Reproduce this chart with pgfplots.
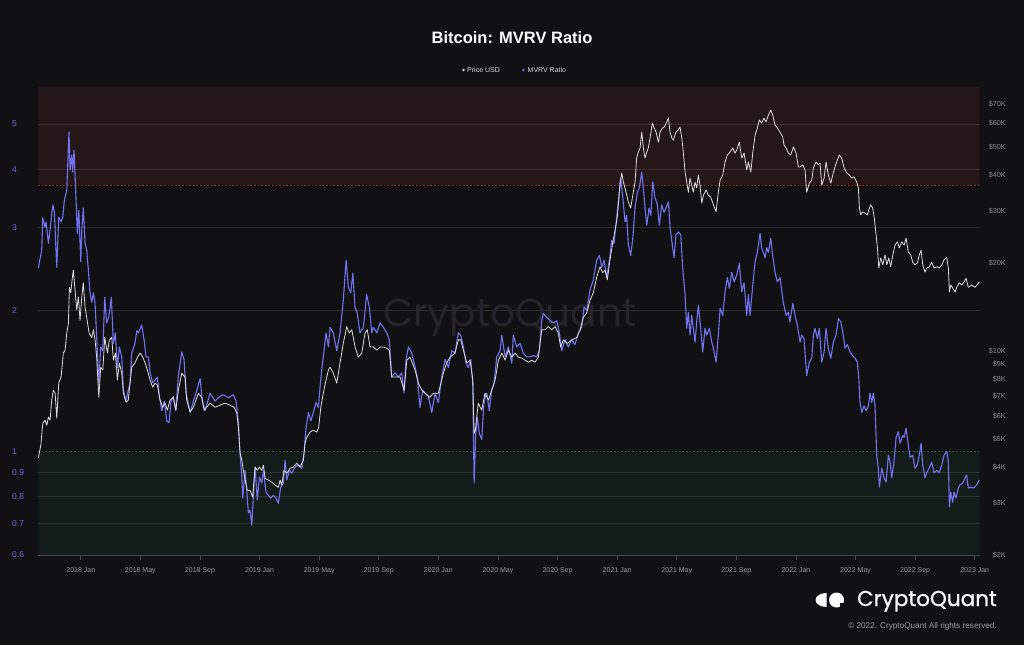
\documentclass[border=0pt]{standalone}
\usepackage{fontspec}
\setmainfont{Liberation Sans}
\newfontfamily\pop{Poppins}
\newfontfamily\popm{Poppins}[FakeBold=0.7]
\usepackage{pgfplots}
\usepackage{pgfplotstable}
\pgfplotsset{compat=1.18}
\definecolor{bg}{HTML}{111114}
\definecolor{redzone}{HTML}{251618}
\definecolor{greenzone}{HTML}{131C19}
\definecolor{mvrv}{HTML}{7272F2}
\definecolor{price}{HTML}{DCDCDC}
\definecolor{lefttick}{HTML}{6A6AE6}
\definecolor{righttick}{HTML}{8A8A8E}
\definecolor{xtickc}{HTML}{9A9AA0}
\definecolor{wm}{HTML}{24242A}
\definecolor{reddash}{HTML}{8A2A2A}
\definecolor{greendash}{HTML}{2E5A36}

\pgfplotstableread{
m v
-2.85 2.46
-2.62 2.69
-2.55 3.15
-2.40 3.01
-2.33 3.09
-2.17 2.78
-2.06 2.97
-1.88 3.36
-1.77 3.23
-1.61 2.47
-1.48 3.16
-1.32 3.09
-1.21 3.16
-1.10 3.44
-0.94 3.61
-0.79 4.81
-0.72 3.99
-0.60 4.29
-0.54 3.95
-0.45 4.40
-0.34 3.61
-0.23 2.92
-0.13 3.27
0.00 2.54
0.07 2.97
0.17 3.31
0.29 2.78
0.40 2.69
0.51 2.44
0.62 2.18
0.74 2.08
0.85 2.18
0.96 2.07
1.07 1.75
1.21 1.40
1.34 1.67
1.48 1.64
1.61 2.13
1.74 1.88
1.88 1.93
2.05 2.13
2.19 1.70
2.32 1.79
2.46 1.51
2.59 1.67
2.75 1.59
2.86 1.35
3.04 1.28
3.19 1.35
3.31 1.40
3.42 1.62
3.64 1.70
3.76 1.81
3.87 1.79
4.09 1.86
4.25 1.73
4.38 1.59
4.54 1.59
4.65 1.47
4.83 1.40
4.99 1.42
5.14 1.44
5.28 1.31
5.44 1.22
5.61 1.28
5.77 1.16
5.93 1.15
6.04 1.27
6.21 1.31
6.38 1.22
6.55 1.45
6.78 1.63
6.93 1.57
7.07 1.33
7.34 1.21
7.56 1.28
7.79 1.35
8.01 1.43
8.16 1.28
8.34 1.22
8.68 1.33
9.01 1.28
9.35 1.31
9.57 1.32
9.91 1.30
10.24 1.32
10.42 1.28
10.58 1.15
10.69 0.99
10.81 0.88
10.87 0.794
11.03 0.91
11.14 0.826
11.25 0.738
11.36 0.748
11.48 0.695
11.58 0.798
11.70 0.925
11.85 0.787
11.99 0.88
12.15 0.855
12.26 0.91
12.44 0.814
12.59 0.805
12.75 0.794
12.93 0.805
13.11 0.794
13.26 0.774
13.42 0.838
13.60 0.855
13.71 0.957
13.83 0.868
14.00 0.91
14.16 0.897
14.38 0.925
14.60 0.934
14.83 0.92
14.99 0.995
15.12 1.12
15.28 1.21
15.44 1.16
15.61 1.21
15.79 1.27
15.95 1.24
16.06 1.37
16.17 1.49
16.28 1.59
16.46 1.79
16.62 1.67
16.73 1.84
16.95 1.79
17.18 1.64
17.40 1.79
17.62 2.10
17.81 2.56
17.96 2.24
18.12 2.18
18.26 2.40
18.41 2.03
18.56 1.97
18.74 1.79
18.97 1.84
19.19 2.16
19.37 2.03
19.53 1.79
19.64 1.84
19.87 1.79
20.09 1.88
20.31 1.84
20.54 1.79
20.71 1.73
20.87 1.44
21.09 1.47
21.32 1.44
21.54 1.47
21.70 1.33
21.83 1.57
21.99 1.67
22.21 1.62
22.44 1.51
22.59 1.44
22.77 1.24
22.95 1.35
23.11 1.33
23.33 1.31
23.56 1.21
23.78 1.33
24.00 1.27
24.23 1.44
24.45 1.57
24.67 1.51
24.90 1.64
25.12 1.62
25.34 1.79
25.50 1.77
25.68 1.67
25.86 1.54
26.01 1.51
26.17 1.57
26.31 1.40
26.40 0.855
26.51 1.09
26.62 1.18
26.75 1.09
26.91 1.06
27.07 1.28
27.25 1.33
27.42 1.22
27.58 1.35
27.74 1.40
27.92 1.59
28.14 1.64
28.26 1.77
28.48 1.59
28.70 1.67
28.93 1.54
29.03 1.77
29.26 1.67
29.48 1.70
29.70 1.62
29.93 1.59
30.15 1.59
30.38 1.60
30.60 1.59
30.78 1.64
30.94 1.90
31.05 1.97
31.28 1.93
31.50 1.90
31.72 1.88
31.95 1.90
32.12 1.79
32.28 1.64
32.50 1.73
32.72 1.67
32.95 1.73
33.17 1.69
33.40 1.79
33.62 1.84
33.78 2.03
33.96 2.00
34.18 2.21
34.40 2.32
34.63 2.56
34.81 2.62
34.97 2.47
35.12 2.56
35.30 2.35
35.48 2.56
35.64 2.82
35.79 2.78
35.93 3.07
36.08 3.41
36.24 3.84
36.38 3.48
36.53 3.09
36.64 3.19
36.75 2.76
36.91 2.62
37.05 2.85
37.20 3.31
37.36 3.58
37.49 3.65
37.65 3.95
37.76 3.65
37.87 3.31
37.99 3.04
38.14 3.31
38.26 3.19
38.39 3.76
38.54 3.48
38.70 3.36
38.83 3.04
38.99 3.36
39.15 3.24
39.28 3.31
39.44 3.41
39.55 3.00
39.73 2.72
39.82 2.59
39.95 2.90
40.11 2.94
40.27 2.90
40.40 2.46
40.56 2.16
40.67 1.83
40.78 1.98
40.89 1.77
41.01 1.95
41.11 1.83
41.23 1.71
41.34 1.89
41.45 2.05
41.61 1.83
41.74 1.63
41.90 1.83
42.01 1.77
42.19 1.83
42.35 1.71
42.46 1.66
42.64 1.55
42.79 1.77
42.91 2.02
43.09 1.95
43.24 2.19
43.40 2.35
43.53 2.23
43.69 2.41
43.85 2.30
44.03 2.38
44.20 2.52
44.36 2.19
44.52 2.29
44.70 1.95
44.81 2.16
44.92 1.95
45.10 2.26
45.26 2.54
45.41 2.66
45.59 2.92
45.70 2.72
45.81 2.66
45.93 2.59
46.04 2.72
46.15 2.66
46.31 2.85
46.44 2.62
46.60 2.41
46.75 2.30
46.93 2.35
47.15 2.08
47.34 1.95
47.49 1.98
47.60 1.89
47.79 2.07
47.94 1.95
48.09 1.86
48.28 1.71
48.39 1.77
48.54 1.74
48.72 1.45
48.90 1.55
49.06 1.58
49.17 1.77
49.28 1.83
49.44 1.74
49.57 1.83
49.73 1.55
49.89 1.63
50.02 1.83
50.17 1.66
50.34 1.58
50.51 1.71
50.69 1.77
50.85 1.92
51.01 1.89
51.14 1.80
51.30 1.66
51.45 1.69
51.63 1.63
51.81 1.60
51.97 1.58
52.12 1.55
52.22 1.43
52.30 1.27
52.42 1.21
52.57 1.25
52.71 1.22
52.86 1.25
52.97 1.33
53.09 1.27
53.19 1.33
53.31 1.25
53.42 0.98
53.53 0.92
53.60 0.838
53.76 0.92
53.91 0.877
54.05 0.859
54.20 0.98
54.32 0.948
54.43 0.877
54.58 0.948
54.72 1.07
54.87 1.10
54.99 1.04
55.17 1.08
55.26 1.07
55.39 1.12
55.54 1.03
55.66 0.97
55.84 0.98
55.99 0.92
56.15 0.934
56.28 0.98
56.40 1.04
56.51 0.934
56.66 0.877
56.78 0.90
56.95 0.92
57.11 0.948
57.27 0.90
57.45 0.91
57.62 0.90
57.79 0.934
57.94 0.98
58.12 1.00
58.23 0.948
58.30 0.760
58.39 0.818
58.52 0.778
58.61 0.818
58.74 0.794
58.90 0.834
59.01 0.847
59.19 0.855
59.35 0.877
59.46 0.889
59.57 0.834
59.73 0.838
59.91 0.834
60.13 0.847
60.31 0.868
}\mvrvdata

\pgfplotstableread{
m p
-2.85 4290
-2.68 4750
-2.55 5650
-2.40 5790
-2.28 5560
-2.17 5930
-2.06 5790
-1.95 6780
-1.84 7330
-1.72 7160
-1.61 5880
-1.48 7750
-1.32 8130
-1.17 9820
-1.05 10050
-0.94 11500
-0.83 12400
-0.76 16500
-0.67 15800
-0.58 17500
-0.50 18900
-0.40 16500
-0.27 13800
-0.16 15300
-0.05 12700
0.07 15300
0.17 17100
0.29 14100
0.40 13000
0.56 11500
0.74 11100
0.85 11800
0.96 10900
1.07 9510
1.21 6930
1.34 8790
1.48 8590
1.61 11100
1.79 9820
1.92 10900
2.08 11100
2.19 9290
2.32 9820
2.46 7940
2.59 9080
2.75 8390
2.86 7160
3.04 6670
3.19 6780
3.42 8790
3.64 9080
3.80 9510
3.98 9820
4.16 9510
4.32 9080
4.47 8590
4.65 7940
4.83 7510
4.99 7750
5.14 7630
5.32 6780
5.50 6410
5.66 6620
5.81 6260
5.99 6780
6.21 6930
6.38 6260
6.55 7330
6.78 8390
7.00 8130
7.11 6780
7.34 6170
7.56 6410
7.89 7160
8.12 6930
8.28 6260
8.68 6620
9.01 6410
9.35 6510
9.68 6620
10.02 6510
10.29 6410
10.47 6120
10.58 5480
10.69 4470
10.81 4220
10.91 3900
11.03 3610
11.18 3330
11.36 3330
11.54 3160
11.70 4000
11.85 3900
11.99 4000
12.15 3900
12.26 4060
12.37 3660
12.59 3610
12.82 3550
13.04 3470
13.26 3410
13.38 3610
13.49 3470
13.64 3900
13.83 3810
14.05 3960
14.27 4000
14.50 4120
14.72 4000
14.94 4220
15.05 4830
15.17 5060
15.39 5270
15.61 5350
15.84 5270
15.97 5480
16.11 6410
16.28 7160
16.46 7940
16.62 8590
16.73 8790
16.95 8390
17.18 7750
17.40 9080
17.62 10600
17.85 12100
18.02 11500
18.19 11800
18.41 10300
18.63 9510
18.86 9820
19.08 11500
19.23 11800
19.42 10300
19.64 10300
19.87 10050
20.09 10300
20.31 10300
20.54 10200
20.71 10050
20.87 8130
21.09 8130
21.43 8130
21.70 7330
21.88 9290
22.10 9510
22.44 8590
22.66 7750
22.89 7330
23.11 7160
23.44 6930
23.66 7160
24.00 7160
24.34 8390
24.56 9080
24.79 9510
25.12 9820
25.34 10900
25.50 10900
25.68 10050
25.91 9080
26.13 9290
26.31 7940
26.40 5220
26.48 5350
26.68 6620
26.91 6260
27.13 7160
27.36 6780
27.58 7330
27.81 7940
28.03 9290
28.26 9820
28.48 9290
28.70 10050
28.93 9510
29.15 9820
29.37 9510
29.60 9440
29.82 9290
30.04 9140
30.27 9290
30.49 9140
30.71 9510
30.94 11800
31.16 11800
31.38 12100
31.61 11800
31.83 12100
32.05 11500
32.21 10300
32.39 10900
32.66 10600
32.95 10900
33.29 11100
33.51 11800
33.73 13000
33.96 13500
34.18 14900
34.40 15800
34.63 17900
34.85 19400
35.03 18500
35.19 18900
35.34 17500
35.52 20500
35.70 23400
35.86 25900
36.01 28700
36.20 37500
36.31 40600
36.42 37800
36.60 34900
36.75 32300
36.91 30800
37.05 34100
37.20 37800
37.31 45700
37.42 47900
37.54 49500
37.65 56100
37.76 49500
37.87 45700
37.99 47900
38.09 49500
38.21 53500
38.36 60200
38.48 57900
38.61 56100
38.77 51800
38.88 56100
39.04 57900
39.17 58400
39.33 60700
39.44 62600
39.55 56100
39.67 53500
39.77 52600
39.95 56100
40.11 57000
40.22 58400
40.34 53500
40.44 47900
40.56 40900
40.67 37800
40.78 34900
40.89 39000
41.01 36900
41.11 34900
41.23 37800
41.34 36100
41.45 40000
41.56 36900
41.68 32000
41.79 34100
41.97 35500
42.12 34100
42.28 33600
42.46 31600
42.64 29900
42.79 34900
42.91 38400
43.09 40000
43.24 44300
43.40 46800
43.58 47900
43.76 49500
43.91 47500
44.03 48700
44.20 51800
44.36 45700
44.52 47500
44.70 41600
44.81 44300
44.97 40900
45.10 47500
45.26 54800
45.41 57900
45.54 61700
45.70 60200
45.85 62600
45.99 60700
46.15 64100
46.31 66700
46.44 64100
46.60 59300
46.75 57900
46.93 56100
47.11 54000
47.20 50600
47.34 49500
47.49 47500
47.65 46800
47.83 49900
48.01 47500
48.16 42600
48.28 42600
48.46 43300
48.61 41600
48.72 34900
48.90 37500
49.06 38400
49.17 42300
49.35 44300
49.50 43300
49.62 43900
49.73 36900
49.89 39000
50.02 44300
50.17 40000
50.34 37500
50.47 40000
50.62 42600
50.78 45000
50.91 46800
51.07 45700
51.23 42300
51.41 40600
51.58 40000
51.74 39000
51.90 39400
52.08 37800
52.19 36100
52.26 30800
52.35 29200
52.48 29900
52.64 29600
52.79 29200
52.93 30800
53.02 31600
53.15 30800
53.26 28500
53.38 24900
53.47 22500
53.56 19200
53.69 20800
53.83 19700
53.98 21300
54.10 19700
54.23 20800
54.36 19400
54.50 21300
54.65 23000
54.81 23600
54.94 22500
55.10 23600
55.26 23000
55.39 24300
55.54 21800
55.70 21300
55.84 20100
55.99 19700
56.15 20000
56.28 21300
56.40 22100
56.51 19700
56.66 18600
56.78 19200
56.95 19400
57.11 20100
57.27 19200
57.45 19400
57.62 19200
57.79 19700
57.94 20500
58.12 20900
58.23 19200
58.30 15900
58.39 16800
58.52 16400
58.68 15900
58.79 16500
58.97 17100
59.13 16800
59.28 17200
59.42 17700
59.57 16500
59.80 16800
60.02 16500
60.31 17200
}\pricedata

\begin{document}
\begin{tikzpicture}[x=1pt,y=1pt]
\fill[bg] (0,0) rectangle (1024,645);
\useasboundingbox (0,0) rectangle (1024,645);

% title and legend
\node[text=white, font=\bfseries\fontsize{16.5}{19}\selectfont] at (512,607) {Bitcoin: MVRV Ratio};
\fill[price] (463.5,575) circle (1.4);
\node[anchor=west, inner sep=0pt, text=white!85!black, font=\fontsize{7}{8}\selectfont] at (467,575) {Price USD};
\fill[mvrv] (523.5,575) circle (1.4);
\node[anchor=west, inner sep=0pt, text=white!85!black, font=\fontsize{7}{8}\selectfont] at (527.5,575) {MVRV Ratio};

\begin{axis}[
  at={(38pt,90pt)}, anchor=south west,
  width=941.5pt, height=468pt, scale only axis,
  xmin=-2.87, xmax=60.32,
  ymode=log, ymin=0.6, ymax=6,
  axis line style={draw=none},
  xtick={0,4,...,60},
  xticklabels={2018 Jan,2018 May,2018 Sep,2019 Jan,2019 May,2019 Sep,2020 Jan,2020 May,2020 Sep,2021 Jan,2021 May,2021 Sep,2022 Jan,2022 May,2022 Sep,2023 Jan},
  xtick pos=left,
  tick align=outside,
  xtick style={draw=white!22!bg, line width=0.7pt},
  major tick length=5pt,
  xticklabel style={font=\fontsize{7}{8}\selectfont, text=xtickc, inner sep=0pt, yshift=-7pt},
  ytick={0.6,0.7,0.8,0.9,1,2,3,4,5},
  yticklabels={0.6,0.7,0.8,0.9,1,2,3,4,5},
  ytick pos=left,
  ytick style={draw=none},
  yticklabel style={font=\fontsize{8.5}{9}\selectfont, text=lefttick, anchor=west, inner sep=0pt, xshift=-21pt},
  minor tick num=0,
]
\fill[redzone] (axis cs:-2.87,3.7) rectangle (axis cs:60.32,6);
\fill[greenzone] (axis cs:-2.87,0.6) rectangle (axis cs:60.32,1);
\pgfplotsinvokeforeach{0.7,0.8,0.9,2,3,4,5}{
  \draw[white, opacity=0.1, line width=0.8pt] (axis cs:-2.87,#1) -- (axis cs:60.32,#1);
}
\draw[reddash, line width=1pt, dash pattern=on 1.8pt off 1.8pt] (axis cs:-2.87,3.7) -- (axis cs:60.32,3.7);
\draw[greendash, line width=0.8pt, dash pattern=on 1.8pt off 1.8pt] (axis cs:-2.87,1) -- (axis cs:60.32,1);
\node[text=wm, font=\pop\fontsize{39}{44}\selectfont] at (rel axis cs:0.501,0.506) {CryptoQuant};
\addplot[mvrv, line width=1.1pt, line join=round, mark=none] table[x=m,y=v] {\mvrvdata};
\end{axis}

\begin{axis}[
  at={(38pt,90pt)}, anchor=south west,
  width=941.5pt, height=468pt, scale only axis,
  xmin=-2.87, xmax=60.32,
  ymode=log, ymin=2000, ymax=80000,
  axis line style={draw=none},
  xtick=\empty,
  ytick={2000,3000,4000,5000,6000,7000,8000,9000,10000,20000,30000,40000,50000,60000,70000},
  yticklabels={\$2K,\$3K,\$4K,\$5K,\$6K,\$7K,\$8K,\$9K,\$10K,\$20K,\$30K,\$40K,\$50K,\$60K,\$70K},
  ytick pos=right, yticklabel pos=right,
  ytick style={draw=none},
  yticklabel style={font=\fontsize{7.3}{8}\selectfont, text=righttick, anchor=east, inner sep=0pt, xshift=26.5pt},
  minor tick num=0,
]
\addplot[price, line width=0.8pt, line join=round, mark=none] table[x=m,y=p] {\pricedata};
\end{axis}

% bottom axis line
\draw[white!22!bg, line width=0.8pt] (38,90) -- (979.5,90);

% logo
\fill[white] (826.5,45) ++(0,7) arc[start angle=90, end angle=270, x radius=11, y radius=7] -- cycle;
\fill[white] (836.5,45) circle (7.5);
\fill[bg] (839.5,37) rectangle (845,42);
\node[anchor=base east, inner sep=0pt, text=white, font=\popm\fontsize{21.5}{24}\selectfont] at (997,39) {CryptoQuant};
\node[anchor=base east, inner sep=0pt, text=white!62!black, font=\fontsize{8.2}{10}\selectfont] at (997,17) {© 2022. CryptoQuant All rights reserved.};
\end{tikzpicture}
\end{document}
